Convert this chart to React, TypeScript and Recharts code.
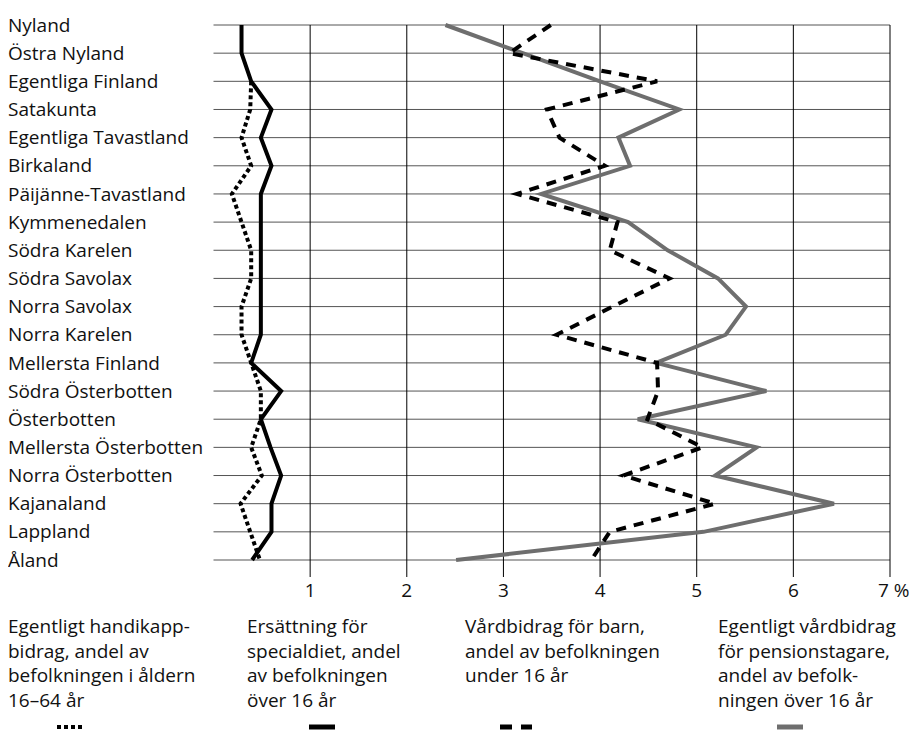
import { LineChart, Line, XAxis, YAxis, ReferenceLine } from "recharts";

const regions = [
  "Nyland",
  "Östra Nyland",
  "Egentliga Finland",
  "Satakunta",
  "Egentliga Tavastland",
  "Birkaland",
  "Päijänne-Tavastland",
  "Kymmenedalen",
  "Södra Karelen",
  "Södra Savolax",
  "Norra Savolax",
  "Norra Karelen",
  "Mellersta Finland",
  "Södra Österbotten",
  "Österbotten",
  "Mellersta Österbotten",
  "Norra Österbotten",
  "Kajanaland",
  "Lappland",
  "Åland",
];

// Egentligt handikappbidrag, % av befolkningen 16–64 år
const handikapp = [null, null, 0.39, 0.38, 0.29, 0.39, 0.19, 0.29, 0.39, 0.39, 0.29, 0.29, 0.39, 0.49, 0.49, 0.39, 0.5, 0.28, 0.38, 0.48];
// Ersättning för specialdiet, % av befolkningen över 16 år
const specialdiet = [0.29, 0.29, 0.39, 0.6, 0.49, 0.6, 0.49, 0.49, 0.49, 0.49, 0.49, 0.49, 0.39, 0.7, 0.49, 0.59, 0.7, 0.6, 0.6, 0.4];
// Vårdbidrag för barn, % av befolkningen under 16 år
const barn = [3.49, 3.06, 4.59, 3.45, 3.58, 4.05, 3.14, 4.18, 4.1, 4.72, 4.13, 3.55, 4.59, 4.6, 4.49, 5.06, 4.24, 5.19, 4.1, 3.91];
// Egentligt vårdbidrag för pensionstagare, % av befolkningen över 16 år
const pension = [2.4, 3.2, 4.0, 4.82, 4.19, 4.31, 3.39, 4.29, 4.7, 5.22, 5.51, 5.3, 4.58, 5.72, 4.39, 5.62, 5.19, 6.42, 5.07, 2.51];

const xTicks = [1, 2, 3, 4, 5, 6, 7];

const legendTexts = [
  ["Egentligt handikapp-", "bidrag, andel av", "befolkningen i åldern", "16–64 år"],
  ["Ersättning för", "specialdiet, andel", "av befolkningen", "över 16 år"],
  ["Vårdbidrag för barn,", "andel av befolkningen", "under 16 år"],
  ["Egentligt vårdbidrag", "för pensionstagare,", "andel av befolk-", "ningen över 16 år"],
];

const data = regions.map((region, i) => ({
  region,
  handikapp: handikapp[i],
  specialdiet: specialdiet[i],
  barn: barn[i],
  pension: pension[i],
}));

const FONT = "'Open Sans', sans-serif";
const GRAY = "#6e6e6e";

// region name drawn at the far left, on the row's grid line
const RegionLabel = (props: any) => {
  const { viewBox, text } = props;
  const y = viewBox ? viewBox.y : 0;
  return (
    <text x={0} y={y} dy="0.35em" textAnchor="start" fontSize={19} fill="#111" fontFamily={FONT}>
      {text}
    </text>
  );
};

const ValueTick = (props: any) => {
  const { x, payload } = props;
  if (payload.value === 7) {
    return (
      <text x={x - 12} y={589} textAnchor="start" fontSize={19} fill="#111" fontFamily={FONT}>
        7 %
      </text>
    );
  }
  return (
    <text x={x} y={589} textAnchor="middle" fontSize={19} fill="#111" fontFamily={FONT}>
      {payload.value}
    </text>
  );
};

const legendLeft = [0, 239, 457, 710];

export default function App() {
  return (
    <div style={{ position: "relative", width: 903, height: 734, fontFamily: FONT, color: "#111" }}>
      <LineChart
        width={903}
        height={600}
        data={data}
        layout="vertical"
        margin={{ top: 17, right: 21, bottom: 8, left: 205.5 }}
      >
        <XAxis
          type="number"
          domain={[0, 7]}
          ticks={xTicks}
          axisLine={false}
          tickLine={{ stroke: "#000" }}
          tickSize={17}
          height={40}
          tick={<ValueTick />}
        />
        <YAxis type="category" dataKey="region" scale="point" hide />
        {regions.map((r) => (
          <ReferenceLine
            key={r}
            y={r}
            stroke="#555"
            strokeWidth={1}
            label={<RegionLabel text={r} />}
          />
        ))}
        {xTicks.map((t) => (
          <ReferenceLine key={t} x={t} stroke="#000" strokeWidth={1} />
        ))}
        <Line dataKey="pension" stroke={GRAY} strokeWidth={4} dot={false} activeDot={false} isAnimationActive={false} />
        <Line dataKey="barn" stroke="#000" strokeWidth={4} strokeDasharray="10 8" dot={false} activeDot={false} isAnimationActive={false} />
        <Line dataKey="specialdiet" stroke="#000" strokeWidth={4} dot={false} activeDot={false} isAnimationActive={false} />
        <Line dataKey="handikapp" stroke="#000" strokeWidth={4} strokeDasharray="4 3" dot={false} activeDot={false} isAnimationActive={false} />
      </LineChart>

      {legendTexts.map((lines, i) => (
        <div
          key={i}
          style={{
            position: "absolute",
            left: legendLeft[i],
            top: 606,
            fontSize: 19,
            lineHeight: "24.5px",
            whiteSpace: "nowrap",
          }}
        >
          {lines.map((l, j) => (
            <div key={j}>{l}</div>
          ))}
        </div>
      ))}

      <svg width={903} height={14} style={{ position: "absolute", left: 0, top: 712 }}>
        <line x1={49} x2={77} y1={7} y2={7} stroke="#000" strokeWidth={4} strokeDasharray="4 3" />
        <line x1={301} x2={327} y1={7} y2={7} stroke="#000" strokeWidth={5} />
        <line x1={492} x2={524} y1={7} y2={7} stroke="#000" strokeWidth={5} strokeDasharray="12 9" />
        <line x1={769} x2={795} y1={7} y2={7} stroke={GRAY} strokeWidth={5} />
      </svg>
    </div>
  );
}
